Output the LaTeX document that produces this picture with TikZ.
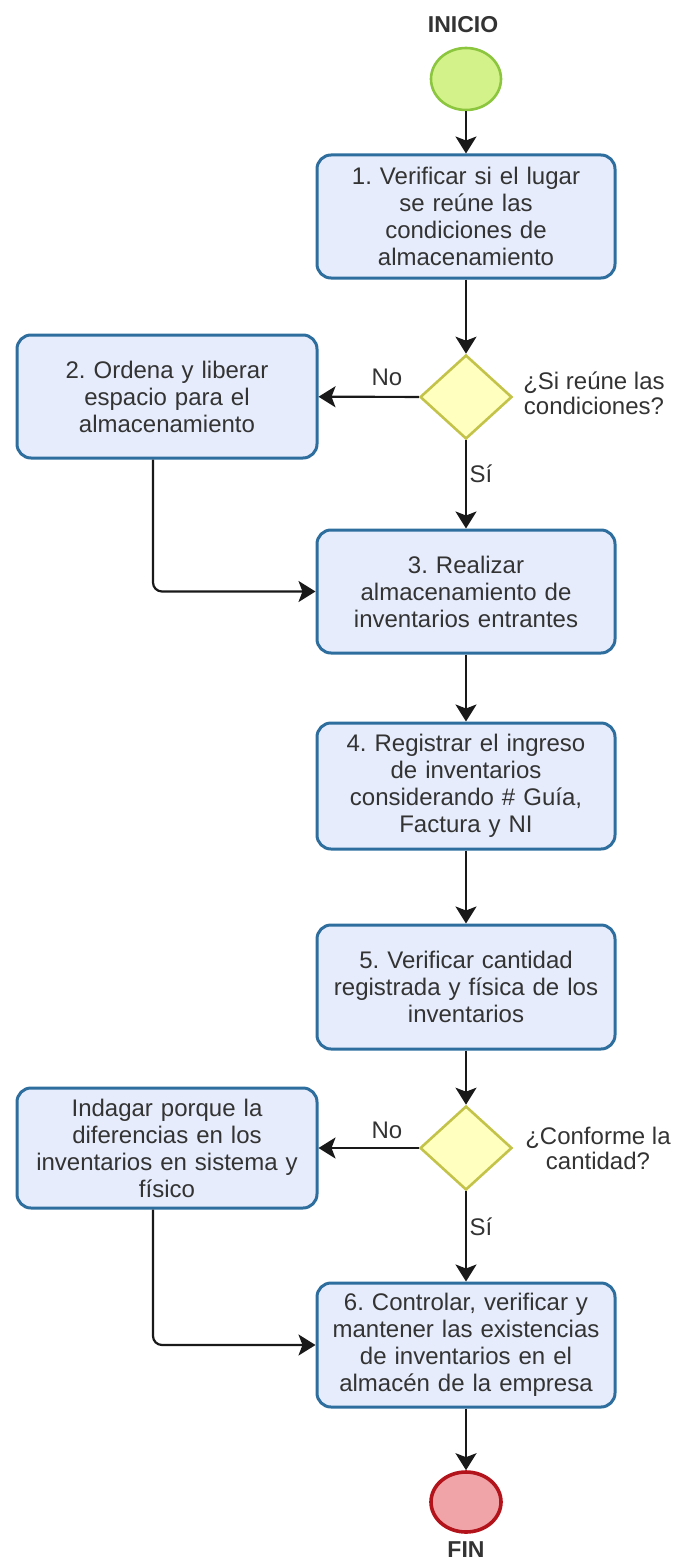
\documentclass[tikz,border=0pt]{standalone}
\usepackage{fontspec}
\setmainfont{Liberation Sans}
\usetikzlibrary{arrows.meta,shapes.geometric}

\definecolor{boxfill}{HTML}{E6ECFB}
\definecolor{boxline}{HTML}{2E6E9E}
\definecolor{decfill}{HTML}{FFFFC0}
\definecolor{decline}{HTML}{C3C34A}
\definecolor{startfill}{HTML}{D4F28A}
\definecolor{startline}{HTML}{8CC63F}
\definecolor{endfill}{HTML}{F0A4A8}
\definecolor{endline}{HTML}{B3141C}
\definecolor{txt}{HTML}{333333}

\tikzset{
  stepbox/.style={draw=boxline, line width=3pt, fill=boxfill, rounded corners=14pt,
    align=center, text=txt, inner sep=2pt, minimum width=298pt, text width=290pt,
    font=\fontsize{24}{27}\selectfont},
  decision/.style={draw=decline, line width=2.6pt, fill=decfill, diamond,
    minimum width=92pt, minimum height=84pt, inner sep=0pt},
  startev/.style={draw=startline, line width=2.6pt, fill=startfill, ellipse,
    minimum width=70pt, minimum height=62pt},
  endev/.style={draw=endline, line width=3.6pt, fill=endfill, ellipse,
    minimum width=70pt, minimum height=60pt},
  lbl/.style={text=txt, align=center, font=\fontsize{24}{25}\selectfont},
  evlbl/.style={text=txt, font=\fontsize{23}{25}\selectfont\bfseries},
  flow/.style={draw=black!90, line width=2.2pt,
    -{Stealth[length=17pt,width=21pt,inset=4pt]}},
}

\begin{document}
\frenchspacing
\begin{tikzpicture}[x=1pt,y=-1pt]
\useasboundingbox (0,0) rectangle (677,1565);

% start and end events
\node[evlbl] (tinicio) at (463,25) {INICIO};
\node[startev] (inicio) at (466,79) {};
\node[endev] (fin) at (466,1502) {};
\node[evlbl] (tfin) at (466,1550) {FIN};

% process steps
\node[stepbox, minimum height=123pt] (s1) at (466,216.5)
  {1. Verificar si el lugar\\se reúne las\\condiciones de\\almacenamiento};
\node[stepbox, minimum width=300pt, minimum height=123pt] (s2) at (167,396.5)
  {2. Ordena y liberar\\espacio para el\\almacenamiento};
\node[stepbox, minimum height=123pt] (s3) at (466,591.5)
  {3. Realizar\\almacenamiento de\\inventarios entrantes};
\node[stepbox, minimum height=126pt] (s4) at (466,786)
  {4. Registrar el ingreso\\de inventarios\\considerando \# Guía,\\Factura y NI};
\node[stepbox, minimum height=124pt] (s5) at (466,987)
  {5. Verificar cantidad\\registrada y física de los\\inventarios};
\node[stepbox, minimum width=300pt, minimum height=120pt] (s7) at (167,1148)
  {Indagar porque la\\diferencias en los\\inventarios en sistema y\\físico};
\node[stepbox, minimum height=124pt] (s6) at (466,1345)
  {6. Controlar, verificar y\\mantener las existencias\\de inventarios en el\\almacén de la empresa};

% decisions and their questions
\node[decision] (d1) at (466,397) {};
\node[decision] (d2) at (466,1148) {};
\node[lbl] (q1) at (594,393) {¿Si reúne las\\condiciones?};
\node[lbl] (q2) at (598,1148) {¿Conforme la\\cantidad?};

% branch labels
\node[lbl] (no1) at (387,377) {No};
\node[lbl] (si1) at (481,474) {Sí};
\node[lbl] (no2) at (387,1130) {No};
\node[lbl] (si2) at (481,1227) {Sí};

% connectors
\draw[flow] (inicio) -- (s1);
\draw[flow] (s1) -- (d1);
\draw[flow] (d1) -- (s2);
\draw[flow] (d1) -- (s3);
\draw[flow, rounded corners=9pt] ([xshift=-14pt]s2.south) |- (s3.west);
\draw[flow] (s3) -- (s4);
\draw[flow] (s4) -- (s5);
\draw[flow] (s5) -- (d2);
\draw[flow] (d2) -- (s7);
\draw[flow] (d2) -- (s6);
\draw[flow, rounded corners=9pt] ([xshift=-14pt]s7.south) |- (s6.west);
\draw[flow] (s6) -- (fin);
\end{tikzpicture}
\end{document}
